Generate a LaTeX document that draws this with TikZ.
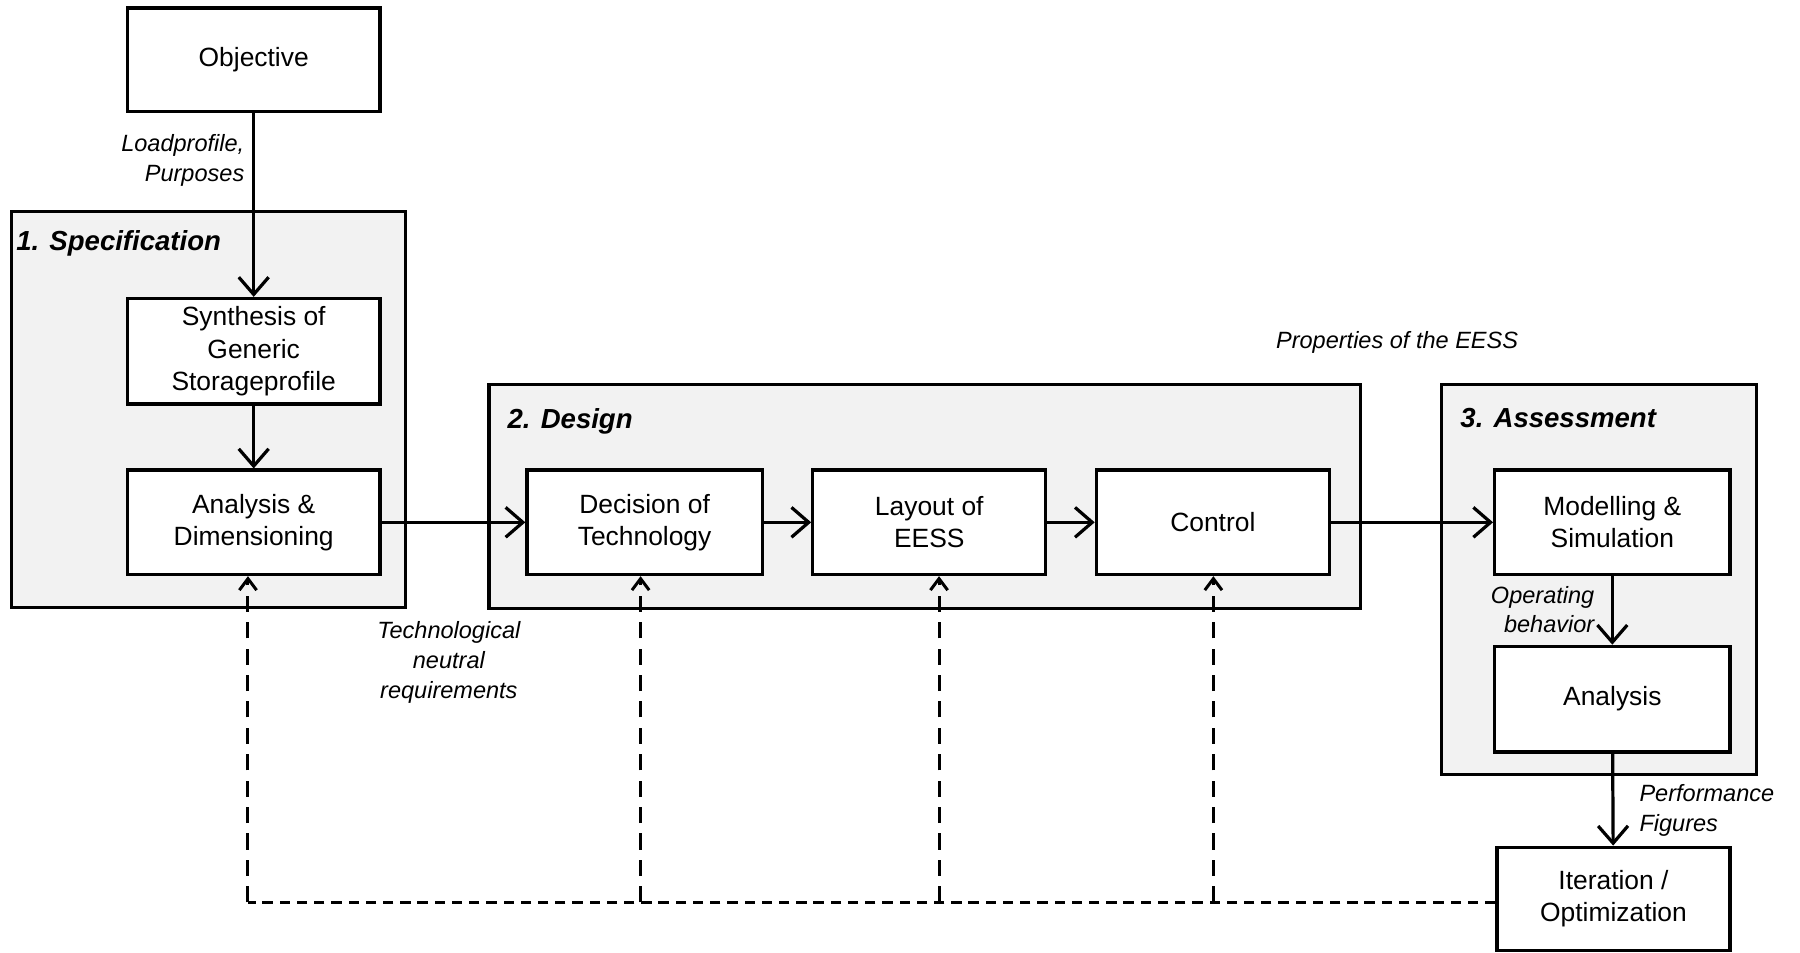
\documentclass[tikz,border=0pt]{standalone}
\usepackage{fontspec}
\setmainfont{Liberation Sans}
\usetikzlibrary{arrows.meta}
\definecolor{grpfill}{HTML}{F2F2F2}
\begin{document}
\begin{tikzpicture}[x=1pt,y=-1pt,
  box/.style={draw, line width=2.8pt, fill=white, minimum width=220, minimum height=90, align=center, font=\fontsize{23}{28}\selectfont, inner sep=0},
  grp/.style={draw, line width=2.8pt, fill=grpfill, inner sep=0},
  ttl/.style={font=\fontsize{24}{28}\selectfont\bfseries\itshape, anchor=west, inner sep=0},
  lbl/.style={font=\fontsize{20.5}{26}\selectfont\itshape, inner sep=0},
  arr/.style={line width=2.8pt, -{Straight Barb[length=15pt,width=26pt]}},
  darr/.style={line width=2.6pt, dash pattern=on 14pt off 9pt, -{Straight Barb[length=10pt,width=15pt]}},
  dln/.style={line width=3pt, dash pattern=on 9pt off 6pt}]
\useasboundingbox (0,0) rectangle (1568,830);
% groups
\node[grp, minimum width=343, minimum height=345] (g1) at (181.5,356.5) {};
\node[grp, minimum width=759, minimum height=195] (g2) at (805.5,432.5) {};
\node[grp, minimum width=274, minimum height=340] (g3) at (1393,505) {};
\node[ttl] (t1) at (14,212) {1. Specification};
\node[ttl] (t2) at (442,367) {2. Design};
\node[ttl] (t3) at (1272,364) {3. Assessment};
% boxes
\node[box] (obj) at (221,52) {Objective};
\node[box, minimum height=92] (syn) at (221,306) {Synthesis of\\Generic\\Storageprofile};
\node[box, minimum height=91] (ana) at (221,455) {Analysis \&\\Dimensioning};
\node[box, minimum width=205, minimum height=91] (dec) at (561.5,455) {Decision of\\Technology};
\node[box, minimum width=203, minimum height=91] (lay) at (809.5,455) {Layout of\\EESS};
\node[box, minimum width=203, minimum height=91] (ctl) at (1056.5,455) {Control};
\node[box, minimum width=205, minimum height=91] (mod) at (1404.5,455) {Modelling \&\\Simulation};
\node[box, minimum width=205, minimum height=92] (asa) at (1404.5,609) {Analysis};
\node[box, minimum width=203, minimum height=90] (itr) at (1405.5,783) {Iteration /\\Optimization};
% labels
\node[lbl, anchor=east, align=right] (l1) at (213,140) {Loadprofile,\\Purposes};
\node[lbl, align=center] (l2) at (391,577) {Technological\\neutral\\requirements};
\node[lbl] (l3) at (1217,298) {Properties of the EESS};
\node[lbl, anchor=east, align=right] (l4) at (1389,531) {Operating\\behavior};
\node[lbl, anchor=west, align=left] (l5) at (1428,706) {Performance\\Figures};
% solid arrows
\draw[arr] (obj) -- (syn);
\draw[arr] (syn) -- (ana);
\draw[arr] (ana) -- (dec);
\draw[arr] (dec) -- (lay);
\draw[arr] (lay) -- (ctl);
\draw[arr] (ctl) -- (mod);
\draw[arr] (mod) -- (asa);
\draw[arr] (asa) -- (itr);
% dashed feedback
\coordinate (c0) at (216,786);
\coordinate (c1) at (558,786);
\coordinate (c2) at (818,786);
\coordinate (c3) at (1057,786);
\draw[dln] (itr.west |- c0) -- (c0);
\draw[darr] (c0) -- (c0 |- ana.south);
\draw[darr] (c1) -- (c1 |- dec.south);
\draw[darr] (c2) -- (c2 |- lay.south);
\draw[darr] (c3) -- (c3 |- ctl.south);
\end{tikzpicture}
\end{document}
